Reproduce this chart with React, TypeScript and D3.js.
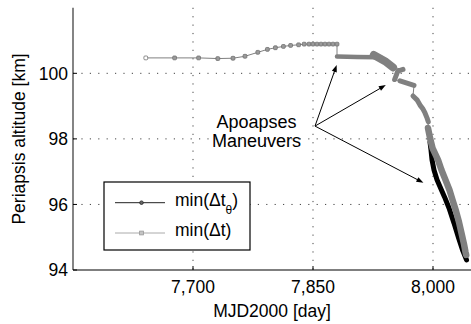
import React from "react";
import * as d3 from "d3";

// ---- data ----
const xDomain = [7550, 8050];
const yDomain = [94, 102];
const xTicks = [7700, 7850, 8000];
const yTicks = [94, 96, 98, 100];
const yGrid = [96, 98, 100];

// min(Δt): individually visible markers
const grayMarkers: [number, number][] = [
  [7641, 100.47], [7677, 100.47], [7707, 100.47], [7731, 100.45], [7750, 100.46],
  [7765, 100.52], [7781, 100.64], [7793, 100.73], [7803, 100.78], [7813, 100.82],
  [7822, 100.85], [7832, 100.87], [7839, 100.89], [7845, 100.89], [7850, 100.89],
  [7855, 100.89], [7860, 100.89], [7865, 100.89], [7870, 100.89], [7875, 100.89],
  [7880, 100.89],
];
// min(Δt): dense runs where the markers merge into a band
const grayRunB: [number, number][] = [[7880, 100.51], [7905, 100.5], [7929, 100.49]];
const grayRunC: [number, number][] = [[7926, 100.56], [7940, 100.37], [7950, 100.18]];
const grayRunD: [number, number][] = [[7962.5, 100.12], [7956, 100.07], [7952, 99.81]];
const grayRunE: [number, number][] = [[7958.75, 99.77], [7976.25, 99.63]];
const grayRunF: [number, number][] = [
  [7975, 99.31], [7980, 99.19], [7983.75, 99.03], [7987.5, 98.91], [7990, 98.79],
  [7992.5, 98.64], [7994.1, 98.52],
];
const grayRunG: [number, number][] = [
  [7993.75, 98.33], [7996.25, 98.03], [7999.4, 97.72], [8006.25, 97.36], [8010.6, 97.05],
  [8015.6, 96.75], [8020.6, 96.44], [8024.4, 96.14], [8028.75, 95.8], [8032.5, 95.46],
  [8035.6, 95.13], [8038.75, 94.79], [8040.6, 94.55], [8041.5, 94.46],
];
// min(Δt_θ): dense run
const blackRun: [number, number][] = [
  [7996.25, 97.9], [7997.5, 97.66], [7998.75, 97.36], [8001.25, 97.05], [8005, 96.75],
  [8010, 96.47], [8014.4, 96.23], [8020, 95.89], [8026.25, 95.43], [8031.9, 94.98],
  [8036.9, 94.61], [8041.9, 94.31],
];

const arrowOrigin: [number, number] = [7852.5, 98.39];
const arrowTips: [number, number][] = [[7879.6, 100.25], [7941, 99.64], [7988, 96.66]];
const annotationLines = ["Apoapses", "Maneuvers"];
const legendLabels = ["min(Δt", "min(Δt)"];

export default function App() {
  const W = 471, H = 324;
  const left = 73, right = 473, top = 7.75, bottom = 270;
  const x = d3.scaleLinear().domain(xDomain).range([left, right]);
  const y = d3.scaleLinear().domain(yDomain).range([bottom, top]);
  const line = d3.line<[number, number]>().x(d => x(d[0])).y(d => y(d[1]));
  const font = "'Liberation Sans', Arial, Helvetica, sans-serif";
  const fmt = d3.format(",");

  const grayRuns = [grayRunB, grayRunC, grayRunD, grayRunE, grayRunF, grayRunG];
  const grayRunWidths = [4.5, 8, 5, 5, 5, 6.5];
  const allGray = [...grayMarkers, ...grayRuns.flat()];

  const ox = x(arrowOrigin[0]), oy = y(arrowOrigin[1]);

  const arrowHead = (tx: number, ty: number) => {
    const ang = Math.atan2(ty - oy, tx - ox);
    const L = 7, w = 2.6;
    const bx = tx - L * Math.cos(ang), by = ty - L * Math.sin(ang);
    const px = -Math.sin(ang) * w, py = Math.cos(ang) * w;
    return `${tx},${ty} ${bx + px},${by + py} ${bx - px},${by - py}`;
  };

  const lgX = 104, lgY = 182, lgW = 146, lgH = 68;
  const row1 = 202.7, row2 = 233;

  return (
    <svg width={W} height={H} style={{ position: "absolute", left: 0, top: 0, background: "#fff" }}
      fontFamily={font}>
      <rect x={0} y={0} width={W} height={H} fill="#fff" />
      {/* grid */}
      {xTicks.map(t => (
        <line key={"gx" + t} x1={x(t)} x2={x(t)} y1={top} y2={bottom} stroke="#444"
          strokeWidth={1} strokeDasharray="1.2,7.2" />
      ))}
      {yGrid.map(t => (
        <line key={"gy" + t} x1={left} x2={W} y1={y(t)} y2={y(t)} stroke="#444"
          strokeWidth={1} strokeDasharray="1.2,7.2" />
      ))}
      {/* axes */}
      <line x1={left} x2={left} y1={top} y2={bottom} stroke="#333" strokeWidth={1.2} />
      <line x1={left} x2={W} y1={bottom} y2={bottom} stroke="#000" strokeWidth={1.2} />
      {xTicks.map(t => (
        <line key={"tx" + t} x1={x(t)} x2={x(t)} y1={bottom} y2={bottom - 4} stroke="#000" />
      ))}
      {yTicks.map(t => (
        <line key={"ty" + t} x1={left} x2={left + 4} y1={y(t)} y2={y(t)} stroke="#000" />
      ))}
      {xTicks.map(t => (
        <text key={"lx" + t} x={x(t)} y={293} textAnchor="middle" fontSize={17.5} fill="#000">
          {fmt(t)}
        </text>
      ))}
      {yTicks.map(t => (
        <text key={"ly" + t} x={68} y={y(t) + 6.3} textAnchor="end" fontSize={17.5} fill="#000">
          {t}
        </text>
      ))}
      <text x={272} y={316.5} textAnchor="middle" fontSize={17.5}>MJD2000 [day]</text>
      <text transform={`translate(24.5,139) rotate(-90)`} textAnchor="middle" fontSize={17.5}>
        Periapsis altitude [km]
      </text>

      {/* black series */}
      <path d={line(blackRun) || ""} fill="none" stroke="#000" strokeWidth={5}
        strokeLinejoin="round" strokeLinecap="round" />

      {/* gray series */}
      <path d={line(allGray) || ""} fill="none" stroke="#808080" strokeWidth={1} />
      {grayRuns.map((r, i) => (
        <path key={"gr" + i} d={line(r) || ""} fill="none" stroke="#808080"
          strokeWidth={grayRunWidths[i]} strokeLinejoin="round" strokeLinecap="round" />
      ))}
      {grayMarkers.map((d, i) => (
        <rect key={"gm" + i} x={x(d[0]) - 1.9} y={y(d[1]) - 1.9} width={3.8} height={3.8}
          rx={1} fill={i === 0 ? "#fff" : "#9a9a9a"} stroke="#707070" strokeWidth={0.8} />
      ))}

      {/* annotation */}
      {arrowTips.map((t, i) => {
        const tx = x(t[0]), ty = y(t[1]);
        const ang = Math.atan2(ty - oy, tx - ox);
        return (
          <g key={"ar" + i}>
            <line x1={ox} y1={oy} x2={tx - 5 * Math.cos(ang)} y2={ty - 5 * Math.sin(ang)}
              stroke="#000" strokeWidth={1} />
            <polygon points={arrowHead(tx, ty)} fill="#000" />
          </g>
        );
      })}
      {annotationLines.map((s, i) => (
        <text key={"an" + i} x={ox - 58.5} y={oy + 2.3 + i * 18.4} textAnchor="middle" fontSize={18}>
          {s}
        </text>
      ))}

      {/* legend */}
      <rect x={lgX} y={lgY} width={lgW} height={lgH} fill="#fff" stroke="#000" strokeWidth={1.2} />
      <line x1={115} x2={165} y1={row1} y2={row1} stroke="#222" strokeWidth={1} />
      <circle cx={141.5} cy={row1} r={1.8} fill="#666" stroke="#222" strokeWidth={0.8} />
      <line x1={115} x2={165} y1={row2} y2={row2} stroke="#aaa" strokeWidth={1} />
      <rect x={141.5 - 1.9} y={row2 - 1.9} width={3.8} height={3.8} fill="#c4c4c4" stroke="#999"
        strokeWidth={0.8} />
      <text x={175} y={row1 + 2.8} fontSize={17.5}>
        {legendLabels[0]}
        <tspan fontSize={12} dy={8.5}>θ</tspan>
        <tspan dy={-8.5}>)</tspan>
      </text>
      <text x={175} y={row2 + 2.6} fontSize={17.5}>{legendLabels[1]}</text>
    </svg>
  );
}
